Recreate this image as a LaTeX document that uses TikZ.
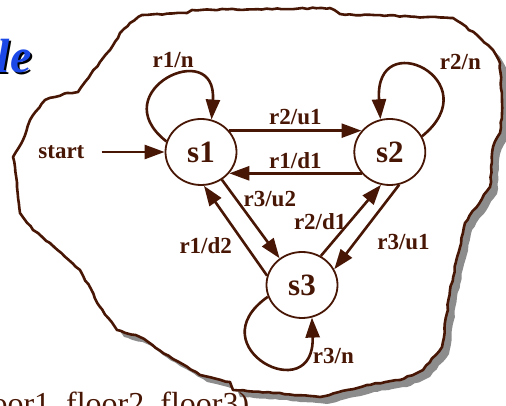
\documentclass[tikz,border=0pt]{standalone}
\usepackage{fontspec}
\setmainfont{Liberation Serif}
\usetikzlibrary{positioning,arrows.meta,shapes.geometric,decorations.pathmorphing}

\definecolor{fsmbrown}{RGB}{72,22,4}
\definecolor{shadowgray}{RGB}{140,140,140}
\definecolor{titleblue}{RGB}{28,72,232}

\begin{document}
\begin{tikzpicture}[x=1pt,y=1pt,
  state/.style={ellipse,draw=fsmbrown,line width=1.8pt,minimum width=71pt,minimum height=66pt,inner sep=0pt,
    font=\fontsize{31}{31}\selectfont\bfseries,text=fsmbrown},
  trans/.style={draw=fsmbrown,line width=2.6pt,-{Triangle[length=20pt,width=14pt]}},
  lbl/.style={font=\fontsize{23}{23}\selectfont\bfseries,text=fsmbrown,inner sep=2pt},
  rough/.style={decoration={random steps,segment length=5pt,amplitude=0.7pt},decorate},
]
\useasboundingbox (0,0) rectangle (506,406);

% hand drawn border of the machine
\def\blob{(13,249) -- (23,266) -- (30,286) -- (45,306) -- (67,313) -- (78,314) -- (85,324)
  -- (100,344) -- (110,356) -- (118,368) -- (120,373) -- (130,383) -- (142,391) -- (187,393)
  -- (192,396) -- (330,398) -- (340,392) -- (453,388) -- (477,371) -- (493,356) -- (500,343)
  -- (502,293) -- (500,273) -- (493,259) -- (490,219) -- (465,183) -- (450,116) -- (447,93)
  -- (442,59) -- (423,36) -- (417,33) -- (400,26) -- (367,21) -- (320,9) -- (273,13)
  -- (233,16) -- (230,24) -- (200,31) -- (173,47) -- (140,69) -- (117,76) -- (100,99)
  -- (80,136) -- (50,163) -- (33,176) -- (20,193) -- (17,219) -- cycle}
\pgfmathsetseed{11}
\fill[shadowgray,rough,xshift=7pt,yshift=-7pt] \blob;
\pgfmathsetseed{11}
\filldraw[fill=white,draw=fsmbrown,line width=2.6pt,line join=round,rough] \blob;

\node[font=\fontsize{48}{48}\selectfont\bfseries\itshape,anchor=base east] (titleshade) at (37,331) {le};
\node[font=\fontsize{48}{48}\selectfont\bfseries\itshape,text=titleblue,anchor=base east] (title) at (35,333) {le};
\node[font=\fontsize{32}{32}\selectfont,text=fsmbrown,anchor=base west] (floors) at (-12,-9) {oor1, floor2, floor3)};

\node[state] (s1) at (201,254) {s1};
\node[state,right=116pt of s1] (s2) {s2};
\node[state] (s3) at (302,121) {s3};
\node[lbl,left=78pt of s1] (start) {start};

\draw[trans,shorten <=15pt] (start) -- (s1);
\draw[trans] (s1.37) -- node[lbl,above=3pt] {r2/u1} (s2.143);
\draw[trans] (s2.217) -- node[lbl,above=1pt] {r1/d1} (s1.323);
\draw[trans] (s1.307) -- node[lbl,pos=.25,right=4pt] {r3/u2} (s3.130);
\draw[trans] (s3.165) -- node[lbl,pos=.33,left=11pt] {r1/d2} (s1.275);
\draw[trans] (s3.57) -- node[lbl,pos=.48,left=0pt] {r2/d1} (s2.255);
\draw[trans] (s2.286) -- node[lbl,pos=.68,right=19pt] {r3/u1} (s3.26);

\draw[trans] (s1.163) to[out=142,in=86,out distance=82pt,in distance=84pt]
  node[lbl,pos=.55,above=7pt] {r1/n} (s1.72);
\draw[trans] (s2.26) to[out=39,in=94,out distance=88pt,in distance=96pt]
  node[lbl,pos=.42,above right=5pt] {r2/n} (s2.106);
\draw[trans] (s3.199) to[out=215,in=272,out distance=88pt,in distance=92pt]
  node[lbl,pos=.8,right=8pt] {r3/n} (s3.287);
\end{tikzpicture}
\end{document}
